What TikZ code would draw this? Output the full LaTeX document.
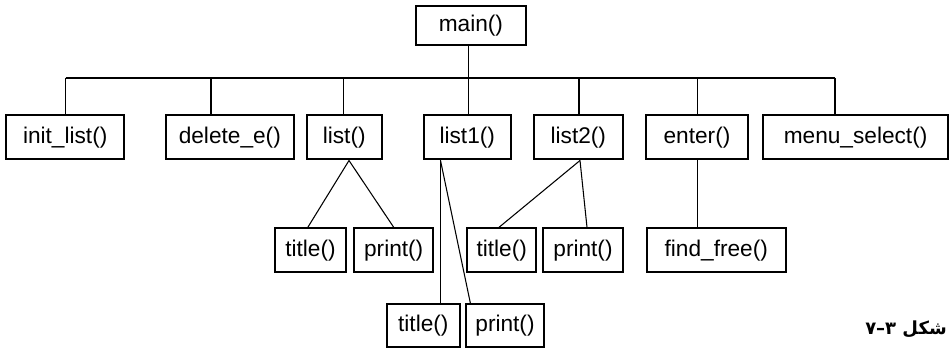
\documentclass[tikz,border=0pt]{standalone}
\usepackage{fontspec}
\setmainfont{Liberation Sans}
\newfontfamily\persianfont[Script=Arabic]{DejaVu Sans}
\TeXXeTstate=1

\begin{document}
\begin{tikzpicture}[x=0.75pt,y=0.75pt,yscale=-1,xscale=1,
  fnbox/.style={draw,line width=1.5pt,inner sep=0pt,font=\fontsize{17}{20}\selectfont,minimum height=33pt},
  link/.style={line width=0.8pt}]
\useasboundingbox (0,0) rectangle (950,349);

% main
\node [fnbox,minimum width=82.3pt,minimum height=29.5pt] (main) at (470.9,25.3) {main()};

% functions called by main
\node [fnbox,minimum width=88.7pt] (initlist) at (65.2,137.5) {init\_list()};
\node [fnbox,minimum width=96.2pt] (deletee) at (229.8,137.5) {delete\_e()};
\node [fnbox,minimum width=56.3pt] (list) at (344.2,137.5) {list()};
\node [fnbox,minimum width=65pt] (listone) at (467.3,137.5) {list1()};
\node [fnbox,minimum width=66.5pt] (listtwo) at (578.3,137.5) {list2()};
\node [fnbox,minimum width=77pt] (enter) at (697,137.5) {enter()};
\node [fnbox,minimum width=138.8pt] (menuselect) at (855.6,137.5) {menu\_select()};

% third level
\node [fnbox,minimum width=53.3pt] (titlea) at (310.5,250.3) {title()};
\node [fnbox,minimum width=59.5pt] (printa) at (393.7,250.3) {print()};
\node [fnbox,minimum width=51.5pt] (titleb) at (501.7,250.3) {title()};
\node [fnbox,minimum width=59.5pt] (printb) at (583,250.3) {print()};
\node [fnbox,minimum width=104.5pt] (findfree) at (716.3,250.3) {find\_free()};

% fourth level
\node [fnbox,minimum width=55pt,minimum height=32pt] (titlec) at (423.3,325.3) {title()};
\node [fnbox,minimum width=58.5pt,minimum height=32pt] (printc) at (505,325.3) {print()};

% bus under main
\coordinate (bus1) at (65.7,78);
\coordinate (bus2) at (211,78);
\coordinate (bus3) at (343.7,78);
\coordinate (bus4) at (468.3,78);
\coordinate (bus5) at (579,78);
\coordinate (bus6) at (697.3,78);
\coordinate (bus7) at (835,78);
\draw [link] (bus1) -- (bus7);
\draw [link] (main.south -| bus4) -- (bus4 |- listone.north);
\draw [link] (bus1) -- (bus1 |- initlist.north);
\draw [link] (bus2) -- (bus2 |- deletee.north);
\draw [link] (bus3) -- (bus3 |- list.north);
\draw [link] (bus5) -- (bus5 |- listtwo.north);
\draw [link] (bus6) -- (bus6 |- enter.north);
\draw [link] (bus7) -- (bus7 |- menuselect.north);

% list() -> title(), print()
\coordinate (lista) at (349,160.5);
\draw [link] (lista) -- ([xshift=-2pt]titlea.north);
\draw [link] (lista) -- (printa.north);

% list2() -> title(), print()
\coordinate (listb) at (580,160.5);
\draw [link] (listb) -- ([xshift=-2pt]titleb.north);
\draw [link] (listb) -- ([xshift=3pt]printb.north);

% list1() -> title(), print()
\coordinate (listc) at (440.5,160.5);
\draw [link] (listc) -- (listc |- titlec.north);
\draw [link] (listc) -- ([xshift=-26pt]printc.north);

% enter() -> find_free()
\draw [link] (enter.south -| bus6) -- (bus6 |- findfree.north);

% caption
\node [anchor=east,inner sep=0pt,font=\persianfont\fontsize{13.5}{15}\selectfont\bfseries] (caption) at (947,329) {\beginR شکل \beginL ۷\kern0pt–\kern0pt۳\endL\endR};

\end{tikzpicture}
\end{document}
